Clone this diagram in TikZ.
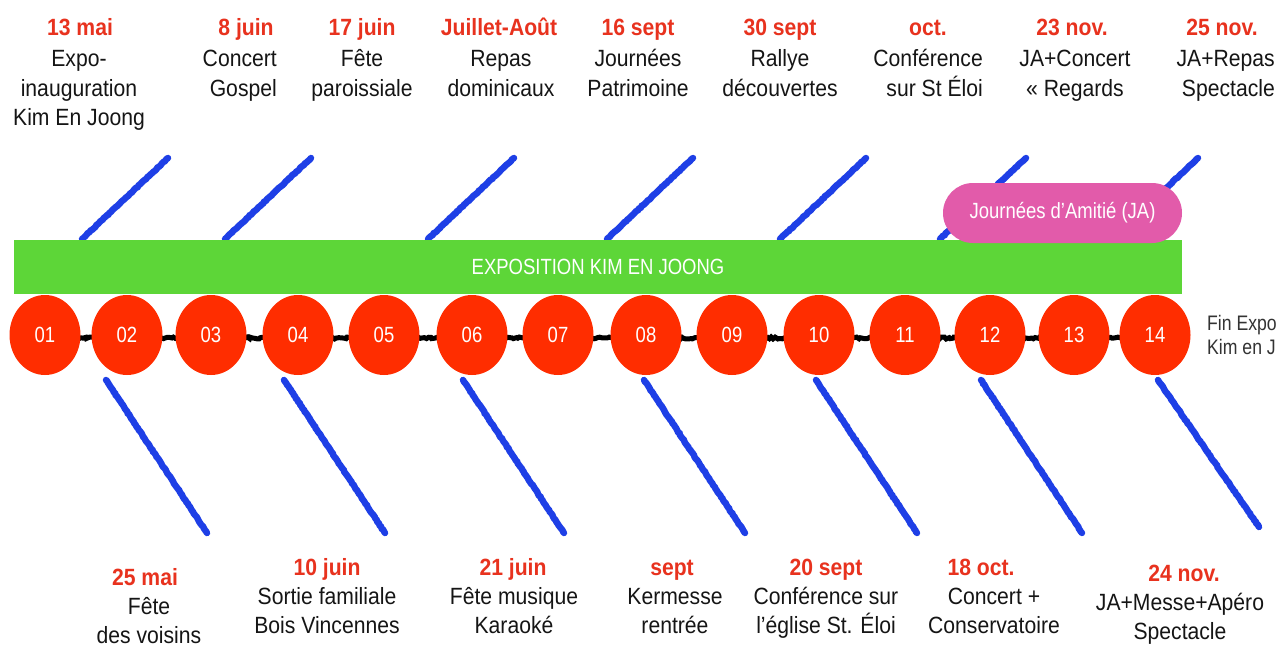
\documentclass[tikz,border=0pt]{standalone}
\usepackage{fontspec}
\setmainfont{Liberation Sans}
\newfontfamily\labfont[FakeStretch=0.9]{Liberation Sans}
\newfontfamily\narrowfont[FakeStretch=0.84]{Liberation Sans}
\usetikzlibrary{shapes.geometric,backgrounds,decorations.pathmorphing}
\definecolor{datered}{HTML}{E8321E}
\definecolor{circred}{HTML}{FF2D00}
\definecolor{bargreen}{HTML}{5DD638}
\definecolor{jpink}{HTML}{E25BAA}
\definecolor{penblue}{HTML}{1E3FE6}
\definecolor{txtblack}{HTML}{151515}
\definecolor{sidegray}{HTML}{333333}
\begin{document}
\begin{tikzpicture}[x=1pt,y=-1pt,
  datelbl/.style={anchor=base, inner sep=0, text=datered, font=\labfont\bfseries\fontsize{23.5}{29.5}\selectfont},
  bodylbl/.style={anchor=north, inner sep=0, align=center, text=txtblack, font=\labfont\fontsize{23.5}{29.5}\selectfont},
  bodyright/.style={bodylbl, anchor=north east, align=right},
  circ/.style={ellipse, fill=circred, minimum width=71, minimum height=80, inner sep=0, text=white, font=\narrowfont\fontsize{22}{26}\selectfont},
  bluepen/.style={draw=penblue, line width=6.5pt, line cap=round, decorate, decoration={random steps, segment length=2pt, amplitude=0.35pt}},
  blackpen/.style={draw=black, line width=5pt, decorate, decoration={random steps, segment length=2pt, amplitude=1pt}}
]
\useasboundingbox (0,0) rectangle (1283,648);

% circles
\foreach \n/\x in {01/45,02/127,03/211,04/298,05/384,06/472,07/558,08/646,09/732,10/819,11/905,12/990,13/1074,14/1155}
  \node[circ] (c\n) at (\x,335) {\n};

% bar and pill
\node[fill=bargreen, minimum width=1168, minimum height=54, inner sep=0, text=white,
      font=\narrowfont\fontsize{22}{26}\selectfont] (bar) at (598,267) {\raisebox{-1.5pt}{EXPOSITION KIM EN JOONG}};
\node[fill=jpink, minimum width=239, minimum height=60, inner sep=0, rounded corners=30, text=white,
      font=\narrowfont\fontsize{22}{26}\selectfont] (ja) at (1062.5,213) {Journées d’Amitié (JA)};

\begin{scope}[on background layer]
  \fill[white] (0,0) rectangle (1283,648);
  % black connectors between circles
  \foreach \a/\b in {01/02,02/03,03/04,04/05,05/06,06/07,07/08,08/09,09/10,10/11,11/12,12/13,13/14}
    \draw[blackpen] ([yshift=-3pt]c\a.center) -- ([yshift=-3pt]c\b.center);
  % blue strokes above
  \foreach \i/\x in {1/82,2/225,3/428,4/607,5/780,6/940,7/1112}{
    \coordinate (ta\i) at (\x,239);
    \coordinate (tb\i) at (\x+86,158);
    \draw[bluepen] (ta\i) -- (tb\i);
  }
  % blue strokes below
  \foreach \i/\x/\e in {1/106/533,2/284/533,3/463/533,4/644/533,5/816/533,6/981/533,7/1158/527}{
    \coordinate (ba\i) at (\x,380);
    \coordinate (bb\i) at (\x+101,\e);
    \draw[bluepen] (ba\i) -- (bb\i);
  }
\end{scope}

% top labels
\node[datelbl] (d1) at (80,35) {13 mai};
\node[bodylbl] (t1) at (79,46) {\strut Expo-\\inauguration\\Kim En Joong};
\node[datelbl] (d2) at (246,35) {8 juin};
\node[bodyright] (t2) at (277,46) {\strut Concert\\Gospel};
\node[datelbl] (d3) at (362,35) {17 juin};
\node[bodylbl] (t3) at (362,46) {\strut Fête\\paroissiale};
\node[datelbl] (d4) at (499,35) {Juillet-Août};
\node[bodylbl] (t4) at (501,46) {\strut Repas\\dominicaux};
\node[datelbl] (d5) at (638,35) {16 sept};
\node[bodylbl] (t5) at (638,46) {\strut Journées\\Patrimoine};
\node[datelbl] (d6) at (780,35) {30 sept};
\node[bodylbl] (t6) at (780,46) {\strut Rallye\\découvertes};
\node[datelbl] (d7) at (928,35) {oct.};
\node[bodyright] (t7) at (983,46) {\strut Conférence\\sur St Éloi};
\node[datelbl] (d8) at (1072,35) {23 nov.};
\node[bodylbl] (t8) at (1075,46) {\strut JA+Concert\\« Regards};
\node[datelbl] (d9) at (1222,35) {25 nov.};
\node[bodyright] (t9) at (1275,46) {\strut JA+Repas\\Spectacle};

% bottom labels
\node[datelbl] (e1) at (145,585) {25 mai};
\node[bodylbl] (b1) at (149,593.5) {\strut Fête\\des voisins};
\node[datelbl] (e2) at (327,575) {10 juin};
\node[bodylbl] (b2) at (327,583.5) {\strut Sortie familiale\\Bois Vincennes};
\node[datelbl] (e3) at (513,575) {21 juin};
\node[bodylbl] (b3) at (514,583.5) {\strut Fête musique\\Karaoké};
\node[datelbl] (e4) at (672,575) {sept};
\node[bodylbl] (b4) at (675,583.5) {\strut Kermesse\\rentrée};
\node[datelbl] (e5) at (826,575) {20 sept};
\node[bodylbl] (b5) at (826,583.5) {\strut Conférence sur\\l’église St. Éloi};
\node[datelbl] (e6) at (981,575) {18 oct.};
\node[bodylbl] (b6) at (994,583.5) {\strut Concert +\\Conservatoire};
\node[datelbl] (e7) at (1184,581) {24 nov.};
\node[bodylbl] (b7) at (1180,589.5) {\strut JA+Messe+Apéro\\Spectacle};

% side note
\node[anchor=north west, inner sep=0, align=left, text=sidegray,
      font=\narrowfont\fontsize{21}{24}\selectfont] (fin) at (1207,313) {\strut Fin Expo\\Kim en J};
\end{tikzpicture}
\end{document}
